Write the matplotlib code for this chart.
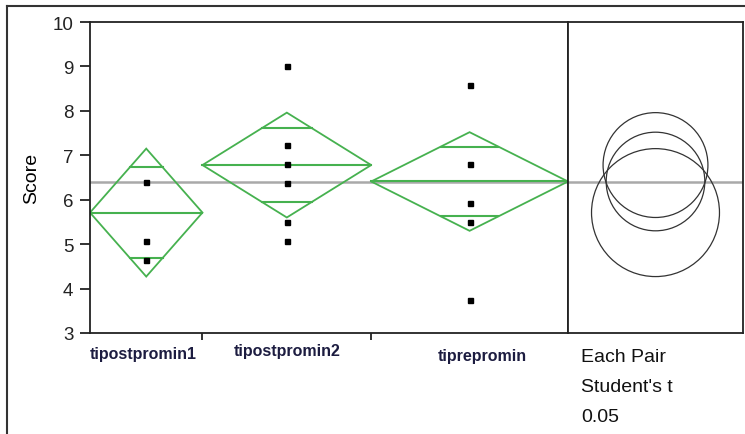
import numpy as np
import matplotlib
matplotlib.use('Agg')
import matplotlib.pyplot as plt
from matplotlib.patches import Polygon, Circle
from matplotlib.lines import Line2D

plt.rcParams['font.family'] = ['Liberation Sans', 'DejaVu Sans']

# ---- data ----
groups = ['tipostpromin1', 'tipostpromin2', 'tiprepromin']
group_n = [4, 6, 7]                      # widths of the x slots
group_means = [5.71, 6.78, 6.41]
ci_half = [1.44, 1.18, 1.11]             # 95% CI half widths (diamond / circle radius)
grand_mean = 6.40
points = [
    [6.39, 5.07, 4.65],
    [9.02, 7.24, 6.80, 6.37, 5.49, 5.06],
    [8.58, 6.80, 5.92, 5.49, 3.75],
]
y_ticks = [3, 4, 5, 6, 7, 8, 9, 10]
footer = ['Each Pair', "Student's t", '0.05']

# ---- figure geometry (pixels) ----
W, H = 745, 435
fig = plt.figure(figsize=(W / 100, H / 100), dpi=100)


def fx(px):
    return px / W


def fy(py):
    return 1 - py / H


left, right, divider, top, bottom = 90, 743, 568, 23, 334
ax = fig.add_axes([fx(left), fy(bottom), fx(divider - left), (bottom - top) / H])
axc = fig.add_axes([fx(divider), fy(bottom), fx(right - divider), (bottom - top) / H])

green = '#46b14f'
edge = '#222222'

# ---- means diamonds ----
bounds = np.concatenate([[0], np.cumsum(group_n)])
ax.set_xlim(0, bounds[-1])
ax.set_ylim(y_ticks[0], y_ticks[-1])
ax.axhline(grand_mean, color='#a9a9a9', lw=1.8, zorder=1)

for i in range(len(groups)):
    x0, x1 = bounds[i], bounds[i + 1]
    xc = (x0 + x1) / 2
    hw = (x1 - x0) / 2
    m, h = group_means[i], ci_half[i]
    diamond = Polygon([[x0, m], [xc, m + h], [x1, m], [xc, m - h]], closed=True,
                      fill=False, edgecolor=green, lw=1.3, zorder=2)
    ax.add_patch(diamond)
    ax.plot([x0, x1], [m, m], color=green, lw=1.5, zorder=2)
    # overlap marks
    d = h / np.sqrt(2)
    ow = hw * (1 - 1 / np.sqrt(2))
    for yv in (m + d, m - d):
        ax.plot([xc - ow, xc + ow], [yv, yv], color=green, lw=1.5, zorder=2)
    ax.plot([xc] * len(points[i]), points[i], 's', color='black', ms=3.6, zorder=3)

ax.set_yticks(y_ticks)
ax.set_xticks(bounds[1:-1])
ax.set_xticklabels([])
ax.tick_params(axis='y', direction='out', length=7, width=1.3, labelsize=13.5, pad=5, colors=edge)
ax.tick_params(axis='x', direction='out', length=5, width=1.3, colors=edge)
ax.set_ylabel('Score', fontsize=14, labelpad=9)
for s in ax.spines.values():
    s.set_linewidth(1.3)
    s.set_color(edge)

# group labels below axis
label_dx = [-3, 0, 13]
label_dy = [21, 18, 23]
for i, g in enumerate(groups):
    xc = (bounds[i] + bounds[i + 1]) / 2
    px = ax.transData.transform((xc, 0))[0] + label_dx[i]
    fig.text(px / W, fy(bottom + label_dy[i]), g, ha='center', va='center',
             fontsize=11.5, fontweight='bold', color='#1c1c40')

# ---- comparison circles ----
ax_w, ax_h = right - divider, bottom - top
yspan = y_ticks[-1] - y_ticks[0]
xspan = yspan * ax_w / ax_h
axc.set_xlim(0, xspan)
axc.set_ylim(y_ticks[0], y_ticks[-1])
axc.axhline(grand_mean, color='#a9a9a9', lw=1.8, zorder=1)
for m, h in zip(group_means, ci_half):
    axc.add_patch(Circle((xspan / 2, m), h, fill=False, edgecolor='#333333', lw=0.9, zorder=2))
axc.set_xticks([])
axc.set_yticks([])
for s in axc.spines.values():
    s.set_linewidth(1.3)
    s.set_color(edge)

for k, t in enumerate(footer):
    fig.text(fx(581), fy(362 + 30 * k), t, ha='left', va='baseline', fontsize=14, color='#111111')

# ---- outer frame ----
fig.add_artist(Line2D([fx(7), fx(7)], [fy(7), 0], color='#333333', lw=1.5))
fig.add_artist(Line2D([fx(7), 1], [fy(7), fy(7)], color='#333333', lw=1.5))

fig.savefig('out.png', dpi=100)
